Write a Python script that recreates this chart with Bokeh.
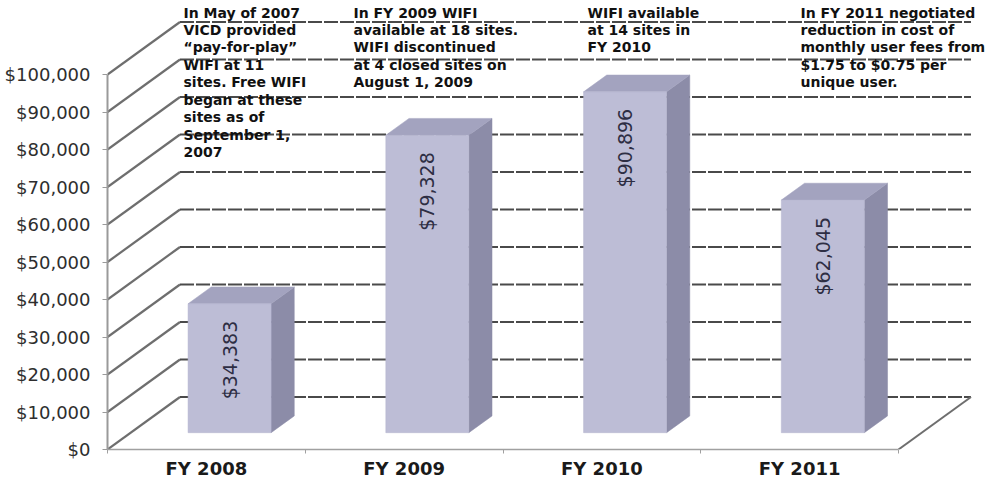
import math
from bokeh.plotting import figure
from bokeh.models import (Range1d, LinearAxis, FixedTicker, NumeralTickFormatter,
                          ColumnDataSource)
from bokeh.core.properties import value
from bokeh.embed import file_html
from bokeh.resources import INLINE

# ---------------- data ----------------
categories = ["FY 2008", "FY 2009", "FY 2010", "FY 2011"]
amounts = [34383, 79328, 90896, 62045]
amount_labels = ["$34,383", "$79,328", "$90,896", "$62,045"]
y_ticks = [0, 10000, 20000, 30000, 40000, 50000, 60000, 70000, 80000, 90000, 100000]
notes = [
    "In May of 2007\nVICD provided\n\u201cpay-for-play\u201d\nWIFI at 11\nsites.  Free WIFI\nbegan at these\nsites  as of\nSeptember 1,\n2007",
    "In FY 2009  WIFI\navailable at 18 sites.\nWIFI discontinued\nat 4 closed sites on\nAugust 1, 2009",
    "WIFI available\nat 14 sites in\nFY 2010",
    "In FY 2011 negotiated\nreduction in cost of\nmonthly user fees from\n$1.75 to $0.75 per\nunique user.",
]

# ---------------- layout ----------------
W, H = 985, 485
LEFT, BOTTOM = 107, 36
PX_PER_CAT = 197.75
FRAME_W = W - LEFT
FRAME_H = H - BOTTOM
PX_PER_VAL = 375.0 / 100000.0
X_END = FRAME_W / PX_PER_CAT
Y_END = FRAME_H / PX_PER_VAL

DX = 72.5 / PX_PER_CAT          # depth shift in x units
DY = 52.5 / PX_PER_VAL          # depth shift in value units
F0, F1 = 0.32, 0.64             # bar front / back depth fraction
BW = 83 / PX_PER_CAT            # bar width
LABEL_PAD = 17 / PX_PER_VAL

FONT = "DejaVu Sans"

p = figure(width=W, height=H, output_backend="svg", toolbar_location=None,
           x_range=Range1d(0, X_END), y_range=Range1d(0, Y_END),
           x_axis_location=None, y_axis_location=None,
           min_border_left=LEFT, min_border_bottom=BOTTOM,
           min_border_top=0, min_border_right=0)
p.outline_line_color = None
p.background_fill_color = "white"
p.border_fill_color = "white"
p.xgrid.visible = False
p.ygrid.visible = False

# y axis
yax = LinearAxis(ticker=FixedTicker(ticks=y_ticks),
                 formatter=NumeralTickFormatter(format="$0,0"),
                 bounds=(0, 100000))
yax.axis_line_color = "#9a9a9a"
yax.axis_line_width = 2
yax.major_tick_line_color = "#9a9a9a"
yax.major_tick_out = 5
yax.major_tick_in = 0
yax.minor_tick_line_color = None
yax.major_label_standoff = 12
yax.major_label_text_font = FONT
yax.major_label_text_font_size = "18px"
yax.major_label_text_color = "#2e2e2e"
p.add_layout(yax, "left")

# x axis (category labels)
n = len(categories)
xax = LinearAxis(ticker=FixedTicker(ticks=[i + 0.5 for i in range(n)],
                                    minor_ticks=list(range(n + 1))),
                 bounds=(0, n))
xax.major_label_overrides = {i + 0.5: c for i, c in enumerate(categories)}
xax.axis_line_color = "#a0a0a0"
xax.axis_line_width = 1.5
xax.major_tick_line_color = None
xax.major_tick_out = 0
xax.major_tick_in = 0
xax.minor_tick_line_color = "#a0a0a0"
xax.minor_tick_out = 4
xax.minor_tick_in = 0
xax.major_label_standoff = 4
xax.major_label_text_font = FONT
xax.major_label_text_font_style = "bold"
xax.major_label_text_font_size = "18px"
xax.major_label_text_color = "#1a1a1a"
p.add_layout(xax, "below")

# side-wall diagonals and back-wall gridlines
p.segment(x0=[0] * len(y_ticks), y0=y_ticks, x1=[DX] * len(y_ticks),
          y1=[v + DY for v in y_ticks], line_color="#6e6e6e", line_width=2.2)
p.segment(x0=[DX] * len(y_ticks), y0=[v + DY for v in y_ticks],
          x1=[n + DX] * len(y_ticks), y1=[v + DY for v in y_ticks],
          line_color="#4a4a4a", line_width=2, line_dash="14 2")
# floor right edge
p.segment(x0=[n], y0=[0], x1=[n + DX], y1=[DY], line_color="#6e6e6e", line_width=2)

# bars
dxb = (F1 - F0) * DX
dyb = (F1 - F0) * DY
lefts, rights, bots, tops = [], [], [], []
side_xs, side_ys, top_xs, top_ys = [], [], [], []
for i, v in enumerate(amounts):
    c = i + 0.5 + F0 * DX
    l, r = c - BW / 2, c + BW / 2
    b = F0 * DY
    t = b + v
    lefts.append(l); rights.append(r); bots.append(b); tops.append(t)
    side_xs.append([r, r + dxb, r + dxb, r])
    side_ys.append([b, b + dyb, t + dyb, t])
    top_xs.append([l, r, r + dxb, l + dxb])
    top_ys.append([t, t, t + dyb, t + dyb])

p.patches(side_xs, side_ys, fill_color="#8c8ca8", line_color="#8c8ca8", line_width=0.5)
p.patches(top_xs, top_ys, fill_color="#a3a3bf", line_color="#a3a3bf", line_width=0.5)
p.quad(left=lefts, right=rights, bottom=bots, top=tops,
       fill_color="#bdbdd6", line_color="#b4b4cf", line_width=0.5)

lab_src = ColumnDataSource(dict(
    x=[(l + r) / 2 for l, r in zip(lefts, rights)],
    y=[t - LABEL_PAD for t in tops],
    text=amount_labels))
p.text(x="x", y="y", text="text", source=lab_src, angle=math.pi / 2,
       text_align="right", text_baseline="middle",
       text_font=value(FONT), text_font_size="19px", text_color="#2e2e44")

# annotations
def px_x(px):
    return (px - LEFT) / PX_PER_CAT

def px_y(py):
    return (FRAME_H - py) / PX_PER_VAL

note_px = [183, 353, 587, 800]
note_src = ColumnDataSource(dict(
    x=[px_x(v) for v in note_px],
    y=[px_y(4)] * len(notes),
    text=notes))
p.text(x="x", y="y", text="text", source=note_src,
       text_align="left", text_baseline="top", text_line_height=1.09,
       text_font=value(FONT), text_font_style="bold", text_font_size="14px",
       text_color="#111111")

open("out.html", "w").write(file_html(p, INLINE))
